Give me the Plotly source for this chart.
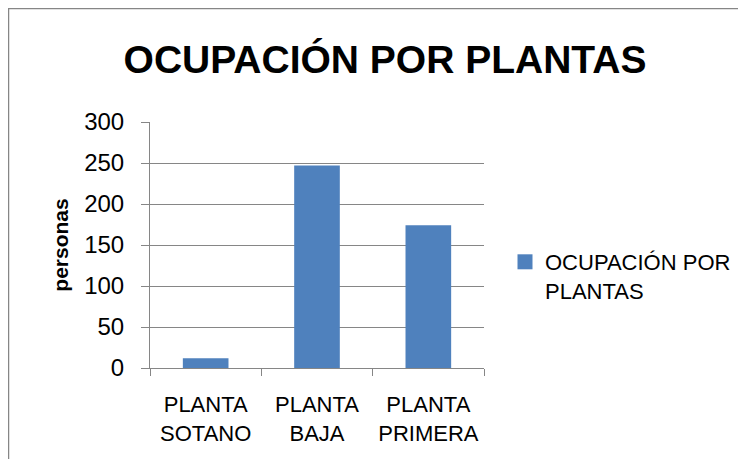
import plotly.graph_objects as go

categories = ["PLANTA<br>SOTANO", "PLANTA<br>BAJA", "PLANTA<br>PRIMERA"]
values = [12, 247, 174]
series_name = "OCUPACIÓN POR<br>PLANTAS"
title_text = "OCUPACIÓN POR PLANTAS"
y_title = "personas"
y_ticks = [0, 50, 100, 150, 200, 250, 300]

FONT = "Liberation Sans"
AXIS = "#868686"
BAR = "#4F81BD"
# the page body adds an 8px offset; layout numbers below compensate for it
OFF = 8
L, R, T, B = 150 - OFF, 484 - OFF, 122 - OFF, 368 - OFF
W, H = 746, 459
PW, PH = R - L, B - T

fig = go.Figure()
fig.add_trace(go.Bar(
    x=categories, y=values, name=series_name,
    marker=dict(color=BAR, line=dict(width=0)),
    width=0.41, showlegend=False,
))
# legend proxy with a larger square swatch (no visible points)
fig.add_trace(go.Scatter(
    x=[None], y=[None], mode="markers", name=series_name,
    marker=dict(symbol="square", size=15, color=BAR, line=dict(width=0)),
    showlegend=True,
))

fig.update_layout(
    width=W, height=H,
    margin=dict(l=L, r=W - R, t=T, b=H - B, pad=0),
    paper_bgcolor="white", plot_bgcolor="white",
    title=dict(text="<b>" + title_text + "</b>", x=(385 - OFF) / W, xanchor="center",
               y=1 - (59 - OFF) / H, yanchor="middle",
               font=dict(family=FONT, size=39, color="black")),
    font=dict(family=FONT, color="black"),
    legend=dict(x=(505 - OFF - L) / PW, xanchor="left",
                y=(B - (241 - OFF)) / PH, yanchor="top",
                font=dict(family=FONT, size=22, color="black"),
                bgcolor="rgba(0,0,0,0)", itemwidth=30, itemsizing="trace",
                valign="top"),
    showlegend=True,
)

fig.update_yaxes(
    range=[0, 300], tickvals=y_ticks, ticktext=[str(v) for v in y_ticks],
    showgrid=True, gridcolor=AXIS, gridwidth=1,
    showline=True, linecolor=AXIS, linewidth=1,
    ticks="outside", ticklen=8, tickcolor=AXIS,
    ticklabelstandoff=12,
    tickfont=dict(family=FONT, size=24, color="black"),
    title=dict(text="<b>" + y_title + "</b>", font=dict(family=FONT, size=21, color="black"), standoff=9),
    zeroline=False,
)
fig.update_xaxes(
    range=[-0.5, 2.5],
    showline=True, linecolor=AXIS, linewidth=1,
    ticks="outside", ticklen=7, tickcolor=AXIS, tickson="boundaries",
    ticklabelstandoff=17,
    tickfont=dict(family=FONT, size=22, color="black"),
    showgrid=False,
)

# chart border
fig.add_shape(type="rect", xref="paper", yref="paper",
              x0=(0.5 - L) / PW, x1=(W + 20 - L) / PW,
              y0=-(H + 20 - B) / PH, y1=(B - 0.5) / PH,
              line=dict(color="#868686", width=1.5), fillcolor="rgba(0,0,0,0)", layer="below")

fig.write_html("out.html")
